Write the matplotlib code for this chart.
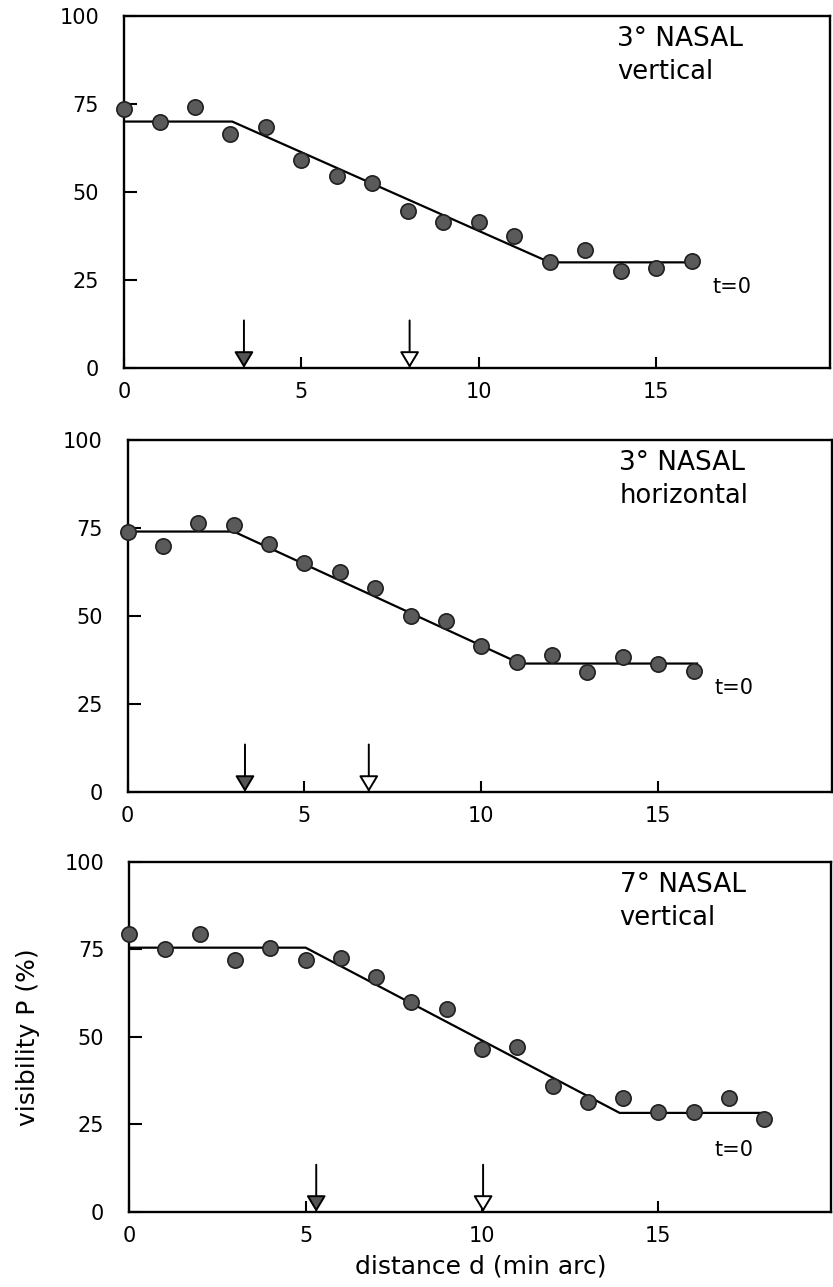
import matplotlib
matplotlib.use('Agg')
import matplotlib.pyplot as plt

# panel 1 : 3 deg nasal, vertical
d1 = [0, 1, 2, 3, 4, 5, 6, 7, 8, 9, 10, 11, 12, 13, 14, 15, 16]
p1 = [73.5, 70, 74, 66.5, 68.5, 59, 54.5, 52.5, 44.5, 41.5, 41.5, 37.5, 30, 33.5, 27.5, 28.5, 30.5]
fit1_x = [0, 3.05, 12, 16.2]
fit1_y = [70, 70, 30, 30]
arrows1 = [3.38, 8.05]

# panel 2 : 3 deg nasal, horizontal
d2 = [0, 1, 2, 3, 4, 5, 6, 7, 8, 9, 10, 11, 12, 13, 14, 15, 16]
p2 = [74, 70, 76.5, 76, 70.5, 65, 62.5, 58, 50, 48.5, 41.5, 37, 39, 34, 38.5, 36.5, 34.5]
fit2_x = [0, 3, 11.1, 16.1]
fit2_y = [74, 74, 36.5, 36.5]
arrows2 = [3.32, 6.82]

# panel 3 : 7 deg nasal, vertical
d3 = [0, 1, 2, 3, 4, 5, 6, 7, 8, 9, 10, 11, 12, 13, 14, 15, 16, 17, 18]
p3 = [79.5, 75, 79.5, 72, 75.5, 72, 72.5, 67, 60, 58, 46.5, 47, 36, 31.5, 32.5, 28.5, 28.5, 32.5, 26.5]
fit3_x = [0, 5.0, 13.9, 17.9]
fit3_y = [75.5, 75.5, 28.3, 28.3]
arrows3 = [5.3, 10.03]

labels = [('3° NASAL', 'vertical'), ('3° NASAL', 'horizontal'), ('7° NASAL', 'vertical')]
t0_y = [23, 29.5, 17.6]

fig = plt.figure(figsize=(8.33, 12.87), dpi=100)
rects = [[0.1489, 0.7141, 0.8475, 0.2735],
         [0.1531, 0.3846, 0.8451, 0.2735],
         [0.1552, 0.0583, 0.8427, 0.2720]]
panels = [(d1, p1, fit1_x, fit1_y, arrows1),
          (d2, p2, fit2_x, fit2_y, arrows2),
          (d3, p3, fit3_x, fit3_y, arrows3)]

for i in range(3):
    d, p, fx, fy, arr = panels[i]
    ax = fig.add_axes(rects[i])
    ax.plot(fx, fy, color='black', lw=1.6, zorder=2)
    ax.plot(d, p, 'o', ms=11, mfc='#5a5a5a', mec='#202020', mew=1.2, zorder=3, clip_on=False)
    for j in range(len(arr)):
        fc = '#555555' if j == 0 else 'white'
        ax.annotate('', xy=(arr[j], 0), xytext=(arr[j], 13.5),
                    arrowprops=dict(arrowstyle='-|>,head_width=0.6,head_length=1.0',
                                    fc=fc, ec='black', lw=1.4, shrinkA=0, shrinkB=0))
    ax.set_xlim(0, 19.9)
    ax.set_ylim(0, 100)
    ax.set_xticks([0, 5, 10, 15])
    ax.set_yticks([0, 25, 50, 75, 100])
    ax.tick_params(axis='x', direction='in', length=8, width=1.5, pad=10, labelsize=15)
    ax.tick_params(axis='y', direction='in', length=9, width=1.5, pad=18, labelsize=15)
    for s in ax.spines.values():
        s.set_linewidth(1.7)
    ax.text(13.9, 93.5, labels[i][0], fontsize=19, va='center', ha='left')
    ax.text(13.9, 84, labels[i][1], fontsize=18.5, va='center', ha='left')
    ax.text(16.6, t0_y[i], 't=0', fontsize=15, va='center', ha='left')
    if i == 2:
        ax.set_ylabel('visibility P (%)', fontsize=18, labelpad=18)
        ax.set_xlabel('distance d (min arc)', fontsize=18, labelpad=6)

plt.savefig('out.png', dpi=100)
